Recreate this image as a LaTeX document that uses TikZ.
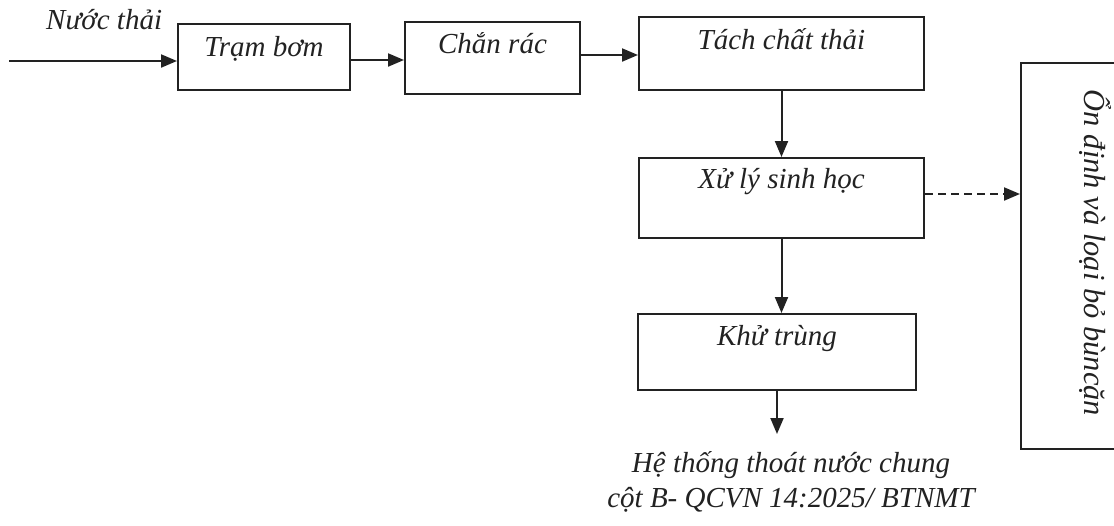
\documentclass[tikz,border=0pt]{standalone}
\usepackage{fontspec}
\setmainfont{Liberation Serif}
\usetikzlibrary{arrows.meta}
\definecolor{ink}{HTML}{222222}
\begin{document}
\begin{tikzpicture}[x=1pt,y=-1pt,
  box/.style={draw=ink, line width=2pt, rectangle, inner sep=0pt, anchor=north west},
  lbl/.style={font=\fontsize{29}{35}\selectfont\itshape, text=ink, inner sep=0pt},
  arr/.style={draw=ink, line width=2pt, -{Triangle[length=16pt,width=13pt]}},
  darr/.style={arr, dash pattern=on 8pt off 5pt}]
\clip (0,0) rectangle (1114,525);
\fill[white] (0,0) rectangle (1114,525);
% boxes
\node[box, minimum width=172pt, minimum height=66pt] (tram) at (177,23) {};
\node[box, minimum width=175pt, minimum height=72pt] (chan) at (404,21) {};
\node[box, minimum width=285pt, minimum height=73pt] (tach) at (638,16) {};
\node[box, minimum width=285pt, minimum height=80pt] (xuly) at (638,157) {};
\node[box, minimum width=278pt, minimum height=76pt] (khu) at (637,313) {};
\node[box, minimum width=140pt, minimum height=386pt] (on) at (1020,62) {};
% labels
\node[lbl, anchor=base] (tramt) at ([yshift=-33pt]tram.north) {Trạm bơm};
\node[lbl, anchor=base] (chant) at ([yshift=-32pt]chan.north) {Chắn rác};
\node[lbl, anchor=base] (tacht) at ([yshift=-33pt]tach.north) {Tách chất thải};
\node[lbl, anchor=base] (xulyt) at ([yshift=-31pt]xuly.north) {Xử lý sinh học};
\node[lbl, anchor=base] (khut) at ([yshift=-32pt]khu.north) {Khử trùng};
\node[lbl, rotate=-90, font=\fontsize{30.5}{36}\selectfont\itshape] (ont) at (1096,253) {Ổn định và loại bỏ bùncặn};
\node[lbl, anchor=base west] (nuoc) at (46,29) {Nước thải};
\node[lbl, align=center, anchor=north] (out) at (791,451) {Hệ thống thoát nước chung\\cột B- QCVN 14:2025/ BTNMT};
% connectors
\coordinate (in) at (9,61);
\coordinate (outtip) at (776,434);
\draw[arr] (in) -- (in -| tram.west);
\draw[arr] ([yshift=-3pt]tram.east) -- ([yshift=-3pt]tram.east -| chan.west);
\draw[arr] ([yshift=3pt]chan.east) -- ([yshift=3pt]chan.east -| tach.west);
\draw[arr] (tach.south) -- (xuly.north);
\draw[arr] (xuly.south) -- (xuly.south |- khu.north);
\draw[arr] (khu.south) -- (khu.south |- outtip);
\draw[darr] ([yshift=4pt]xuly.east) -- ([yshift=4pt]xuly.east -| on.west);
\end{tikzpicture}
\end{document}
